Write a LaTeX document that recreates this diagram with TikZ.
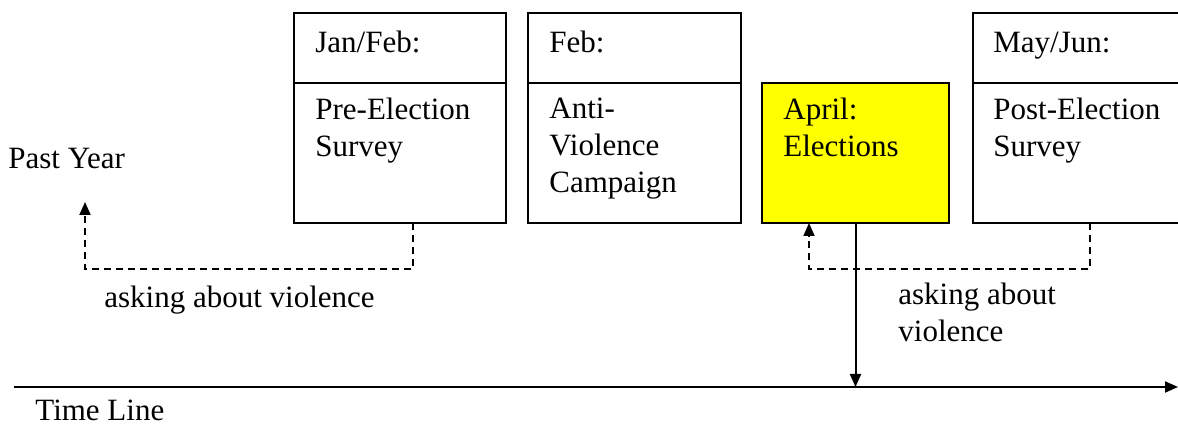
\documentclass[tikz,border=0pt]{standalone}
\usepackage{fontspec}
\setmainfont{Liberation Serif}
\usetikzlibrary{arrows.meta,calc}
\begin{document}
\begin{tikzpicture}[x=0.5pt,y=-0.5pt,
  box/.style={draw, line width=1pt, inner sep=0pt, outer sep=0pt, anchor=north west},
  lbl/.style={anchor=base west, inner sep=0pt, font=\fontsize{15.5}{18.5}\selectfont, align=left},
  tipa/.style={-{Triangle[length=6.5pt,width=5.5pt]}},
  dsh/.style={dash pattern=on 3.5pt off 2.5pt, line width=0.9pt}]
\useasboundingbox (0,0) rectangle (1178,426);
% boxes
\node[box, minimum width=106pt, minimum height=35pt] (h1) at (294,13) {};
\node[box, minimum width=106pt, minimum height=70pt] (b1) at (294,83) {};
\node[box, minimum width=106.5pt, minimum height=35pt] (h2) at (528,13) {};
\node[box, minimum width=106.5pt, minimum height=70pt] (b2) at (528,83) {};
\node[box, fill={rgb,255:red,255;green,255;blue,0}, minimum width=93.5pt, minimum height=70pt] (yb) at (762,83) {};
\node[box, minimum width=110pt, minimum height=35pt] (h4) at (973,13) {};
\node[box, minimum width=110pt, minimum height=70pt] (b4) at (973,83) {};
% texts (base = baseline of last line)
\node[lbl] (t1h) at (315,53) {Jan/Feb:};
\node[lbl] (t1b) at (315,157) {Pre-Election\\Survey};
\node[lbl] (t2h) at (549,53) {Feb:};
\node[lbl] (t2b) at (549,193) {Anti-\\Violence\\Campaign};
\node[lbl] (t3b) at (783,157) {April:\\Elections};
\node[lbl] (t4h) at (993,53) {May/Jun:};
\node[lbl] (t4b) at (993,157) {Post-Election\\Survey};
\node[lbl] (past) at (8,169) {Past Year};
\node[lbl] (ask1) at (104,308) {asking about violence};
\node[lbl] (ask2) at (898,342) {asking about\\violence};
\node[lbl] (time) at (35,421) {Time Line};
% timeline
\coordinate (tl0) at (14,387);
\coordinate (tl1) at (1178,387);
\draw[line width=1pt, tipa] (tl0) -- (tl1);
\draw[line width=1pt, tipa] (yb.south) -- (yb.south |- tl0);
% dashed arrows
\coordinate (py) at (85,202);
\coordinate (d1) at (413,223);
\draw[dsh, tipa] (b1.south -| d1) -- ++(0,46) -| (py);
\coordinate (d2) at (1090,223);
\coordinate (d2t) at (809,223);
\draw[dsh, tipa] (b4.south -| d2) -- ++(0,46) -| (yb.south -| d2t);
\end{tikzpicture}
\end{document}
